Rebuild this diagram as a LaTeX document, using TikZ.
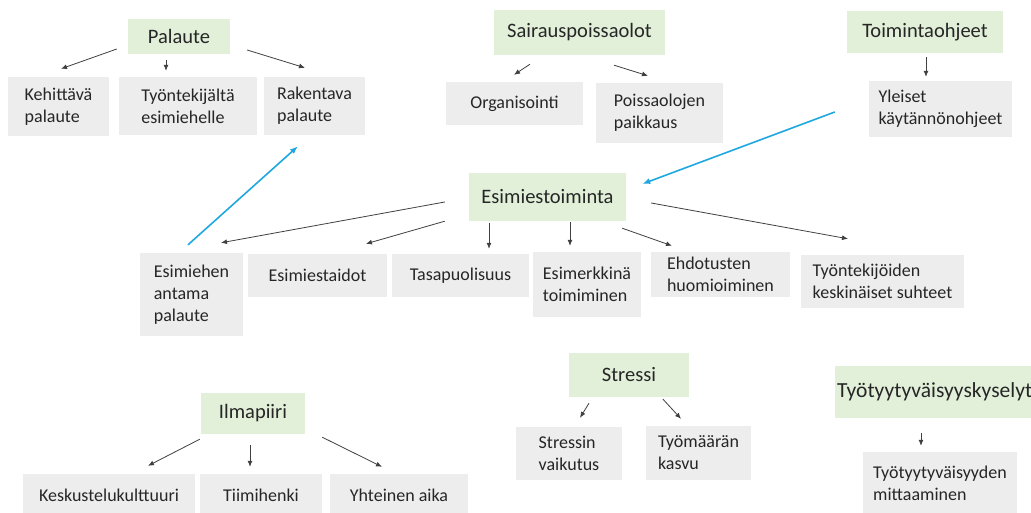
\documentclass[tikz,border=0pt]{standalone}
\usepackage{fontspec}
\setmainfont{Carlito}
\usetikzlibrary{arrows.meta,calc}
\definecolor{hgreen}{HTML}{E2F0D9}
\definecolor{cgray}{HTML}{EDEDED}
\definecolor{txt}{HTML}{262626}
\definecolor{arrc}{HTML}{404040}
\definecolor{blu}{HTML}{1FA8E0}
\tikzset{
  head/.style={fill=hgreen, text=txt, inner sep=0pt, font=\fontsize{20.5}{24}\selectfont},
  item/.style={fill=cgray, text=txt, inner sep=0pt, align=left, font=\fontsize{18}{22}\selectfont},
  box/.style 2 args={minimum width=#1, minimum height=#2},
  arr/.style={draw=arrc, line width=0.8pt, -{Latex[length=6pt,width=5pt]}},
  barr/.style={draw=blu, line width=1.6pt, -{Latex[length=8pt,width=6pt]}}
}
\begin{document}
\begin{tikzpicture}[x=1pt,y=-1pt]
\useasboundingbox (0,0) rectangle (1031,513);
\clip (0,0) rectangle (1031,513);
\fill[white] (0,0) rectangle (1031,513);
% Palaute
\node[head, box={102}{35}] (pal) at (179,36.5) {Palaute};
\node[item, box={101}{59}] (keh) at (58.5,106.5) {Kehittävä\\palaute};
\node[item, box={138}{58}] (tyo) at (188,106) {Työntekijältä\\esimiehelle};
\node[item, box={101}{58}] (rak) at (314.5,106) {Rakentava\\palaute};
% Sairauspoissaolot
\node[head, box={171}{45}] (sai) at (579.5,32.5) {Sairauspoissaolot};
\node[item, box={137}{43}] (org) at (514.5,103.5) {Organisointi};
\node[item, box={127}{60}] (poi) at (659.5,113) {Poissaolojen\\paikkaus};
% Toimintaohjeet
\node[head, box={156}{42}] (toi) at (925,32) {Toimintaohjeet};
\node[item, box={143}{56}] (yle) at (940.5,109) {Yleiset\\käytännönohjeet};
% Esimiestoiminta
\node[head, box={157}{48}] (esi) at (547.5,197) {Esimiestoiminta};
\node[item, box={103}{83}] (eap) at (191.5,294.5) {Esimiehen\\antama\\palaute};
\node[item, box={139}{43}] (est) at (317.5,275.5) {Esimiestaidot};
\node[item, box={137}{43}] (tas) at (460.5,275.5) {Tasapuolisuus};
\node[item, box={108}{65}] (emk) at (587,284.5) {Esimerkkinä\\toimiminen};
\node[item, box={139}{45}] (ehd) at (720.5,274.5) {Ehdotusten\\huomioiminen};
\node[item, box={163}{53}] (tyk) at (882.5,281.5) {Työntekijöiden\\keskinäiset suhteet};
% Ilmapiiri
\node[head, box={104}{41}] (ilm) at (253,413.5) {Ilmapiiri};
\node[item, box={172}{43}] (kes) at (109,495.5) {Keskustelukulttuuri};
\node[item, box={122}{43}] (tii) at (261,495.5) {Tiimihenki};
\node[item, box={138}{43}] (yht) at (399,495.5) {Yhteinen aika};
% Stressi
\node[head, box={120}{44}] (str) at (629,375) {Stressi};
\node[item, box={106}{53}] (svk) at (569,453.5) {Stressin\\vaikutus};
\node[item, box={105}{54}] (tmk) at (698.5,453) {Työmäärän\\kasvu};
% Tyotyytyvaisyys
\node[head, font=\fontsize{21.5}{25}\selectfont, minimum height=52, text width=210, inner xsep=2pt, align=left, anchor=west] (tyy) at (835,392) {Työtyytyväisyyskyselyt};
\node[item, box={154}{63}] (mit) at (940,483.5) {Työtyytyväisyyden\\mittaaminen};
% arrows Palaute
\draw[arr] ($(pal.west)+(-11,12.5)$) -- ($(keh.north)+(2.5,-8)$);
\draw[arr] ($(pal.south)+(-13,6)$) -- ($(tyo.north)+(-22,-6)$);
\draw[arr] ($(pal.east)+(17,13.5)$) -- ($(rak.north)+(-9.5,-9)$);
% arrows Sairaus
\draw[arr] ($(sai.south)+(-49.5,9)$) -- ($(org.north)+(-0.5,-7)$);
\draw[arr] ($(sai.south)+(34.5,10)$) -- ($(poi.north)+(-11.5,-7)$);
% Toiminta
\draw[arr] ($(toi.south)+(1,4)$) -- ($(yle.north)+(-14.5,-4)$);
% Esimiestoiminta
\draw[arr] ($(esi.west)+(-24,5)$) -- ($(eap.north)+(29.5,-10)$);
\draw[arr] ($(esi.south west)+(-24,0)$) -- ($(est.north)+(48.5,-10)$);
\draw[arr] ($(esi.south)+(-58.5,2)$) -- ($(tas.north)+(28.5,-5)$);
\draw[arr] ($(esi.south)+(22.5,1)$) -- ($(emk.north)+(-17,-6)$);
\draw[arr] ($(esi.south east)+(-4,7)$) -- ($(ehd.north)+(-48.5,-6)$);
\draw[arr] ($(esi.east)+(25,6)$) -- ($(tyk.north)+(-34.5,-16)$);
% blue
\draw[barr] ($(eap.north)+(-3.5,-8)$) -- ($(rak.south)+(-16.5,11)$);
\draw[barr] ($(yle.west)+(-34,3)$) -- ($(esi.east)+(16,-13)$);
% Ilmapiiri
\draw[arr] ($(ilm.south west)+(-1,5)$) -- ($(kes.north)+(39,-8)$);
\draw[arr] ($(ilm.south)+(-3,11)$) -- ($(tii.north)+(-11,-7)$);
\draw[arr] ($(ilm.south east)+(17,3)$) -- ($(yht.north)+(-17,-7)$);
% Stressi
\draw[arr] ($(str.south)+(-40,6)$) -- ($(svk.north)+(11,-9)$);
\draw[arr] ($(str.south)+(34,2)$) -- ($(tmk.north)+(-17.5,-7)$);
% Tyotyytyvaisyys
\draw[arr] ($(tyy.south west)+(86,15)$) -- ($(mit.north)+(-19,-6)$);
\end{tikzpicture}
\end{document}
